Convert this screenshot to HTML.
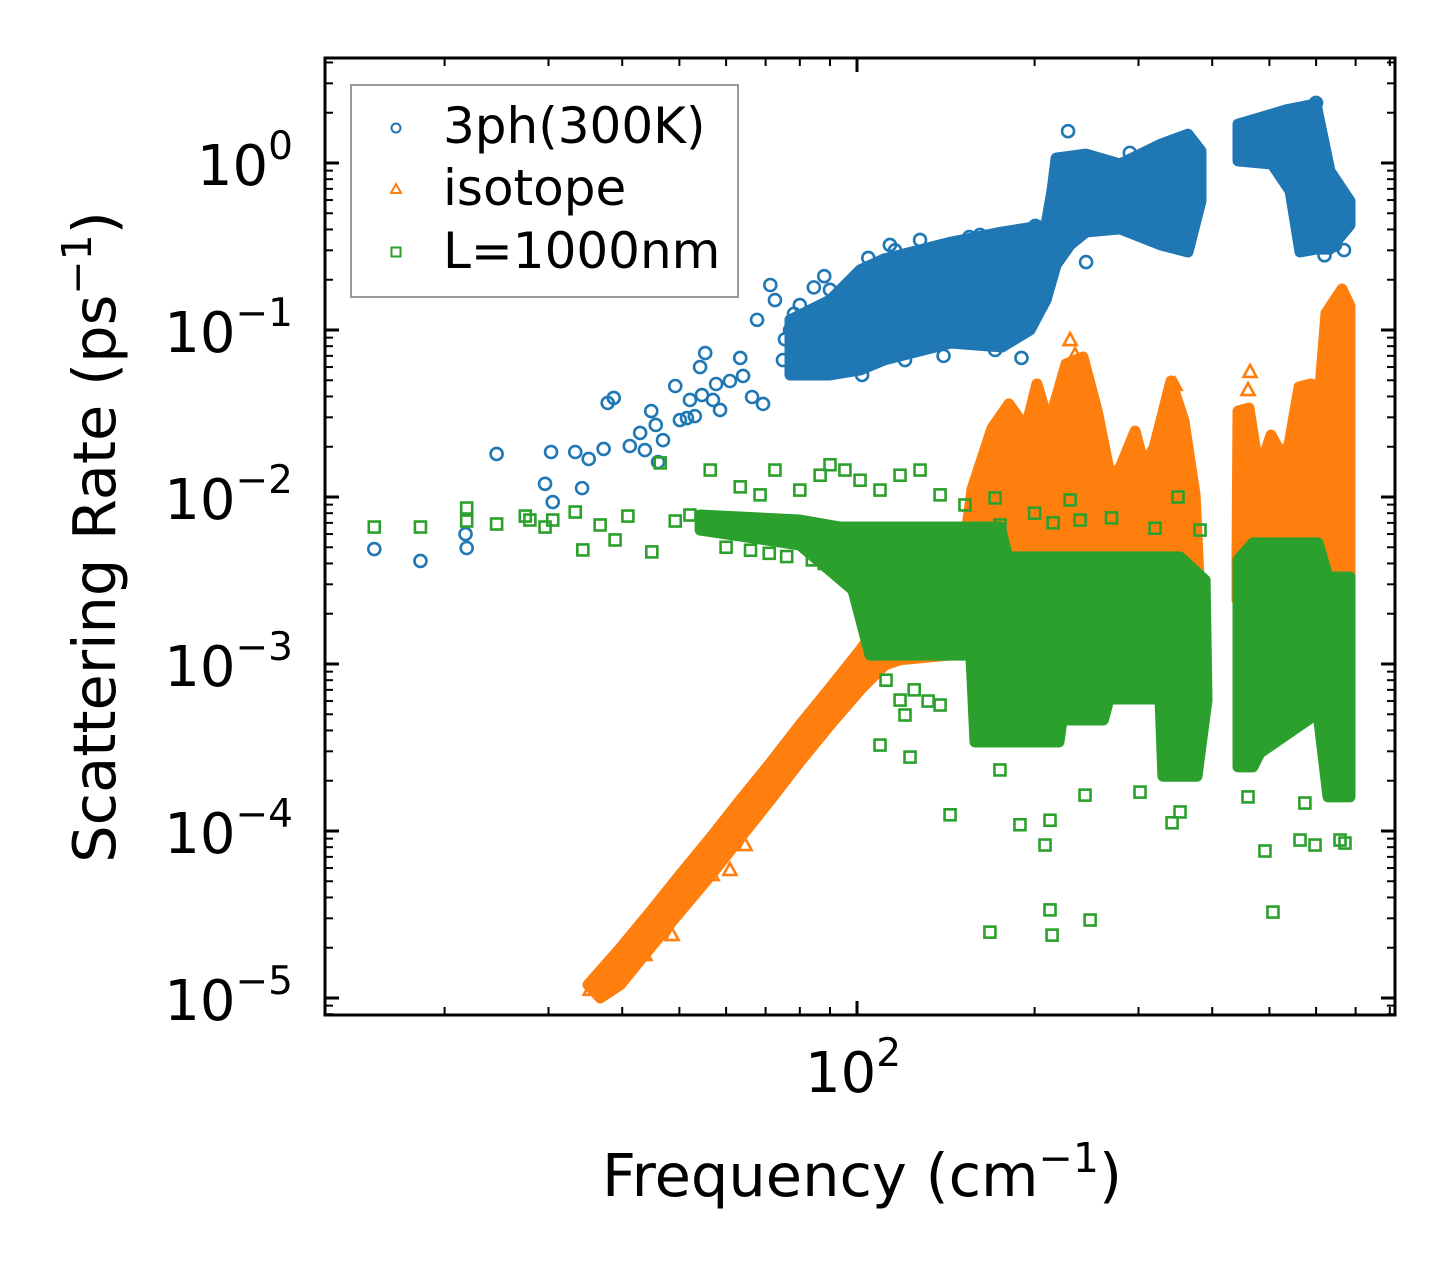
<!DOCTYPE html>
<html><head><meta charset="utf-8"><style>
html,body{margin:0;padding:0;background:#fff;}
svg{display:block;font-family:"DejaVu Sans","Liberation Sans",sans-serif;}
</style></head><body>
<svg id="chart" width="1455" height="1265" viewBox="0 0 1455 1265" xmlns="http://www.w3.org/2000/svg">
<rect width="1455" height="1265" fill="#fff"/>
<g id="plot"></g>
<g id="axes"></g>
<g>
<rect x="351" y="85" width="387" height="212" fill="#fff" fill-opacity="0.8" stroke="#999" stroke-width="2"/>
<circle cx="396" cy="128" r="4.5" fill="none" stroke="#1f77b4" stroke-width="2"/>
<text x="443" y="143" font-size="50">3ph(300K)</text>
<polygon points="396,184 401,193 391,193" fill="none" stroke="#ff7f0e" stroke-width="2"/>
<text x="443" y="205" font-size="50">isotope</text>
<rect x="391.5" y="247.5" width="9" height="9" fill="none" stroke="#2ca02c" stroke-width="2"/>
<text x="443" y="268" font-size="50">L=1000nm</text>
</g>
<text x="862" y="1196" font-size="59" text-anchor="middle">Frequency (cm<tspan dy="-24" font-size="41">−1</tspan><tspan dy="24">)</tspan></text>
<text transform="translate(115,537) rotate(-90)" font-size="59" text-anchor="middle">Scattering Rate (ps<tspan dy="-24" font-size="41">−1</tspan><tspan dy="24">)</tspan></text>
</svg>
<script>
// ---- data (frequency in cm^-1, rate in ps^-1) ----
const blueFreq=[15.2,18.2,21.7,21.8,24.5,29.6,30.3,30.5,33.3,34.2,35.1,37.2,37.8,38.7,41.2,42.9,43.7,44.8,45.6,46.0,46.9,49.2,50.1,51.5,52.1,53.1,54.2,54.6,55.3,57.0,57.7,58.6,60.9,63.4,64.1,66.4,67.7,69.3,71.3,72.6,74.9,77.0,80.0,81.7,86.6,90.0,95.4,100.4,102,109.4,113.7,120.6,127.9,135.6,149.5,161.6,171.4,227.9,244.5,234.2,563.5,599.8,645.7,669,75.5,78.2,83.1,84.5,88.0,92.1,104.5,116.0,140.2,155.0,190.0,200.5,290.0,350.0,470.0,520.0,620.0];
const blueRate=[0.00488,0.00414,0.0060,0.00495,0.0181,0.0120,0.0186,0.00933,0.0186,0.0113,0.0169,0.0194,0.0366,0.0392,0.0202,0.0242,0.0191,0.0327,0.0270,0.0162,0.0219,0.0462,0.0289,0.0297,0.0381,0.0305,0.0600,0.0408,0.0728,0.0381,0.0475,0.0332,0.0495,0.0680,0.0531,0.0397,0.115,0.0361,0.186,0.151,0.0661,0.100,0.141,0.0661,0.0759,0.174,0.162,0.199,0.0538,0.229,0.323,0.0661,0.346,0.100,0.323,0.371,0.0759,1.55,0.255,0.973,1.69,2.29,0.323,0.301,0.0880,0.125,0.0950,0.180,0.210,0.130,0.270,0.300,0.0700,0.360,0.0680,0.420,1.15,1.20,1.75,1.90,0.280];
const blueBand1Freq=[77.0,90.0,101.2,111.1,144.3,176.1,209.1,214.1,217.5,244.5,279.1,327.6,364,382.9,382.9,364,327.6,279.1,244.5,229.7,217.5,209.1,196.5,176.1,144.3,111.1,101.2,90.0,77.0];
const blueBand1Rate=[0.115,0.151,0.229,0.266,0.336,0.386,0.425,0.689,1.07,1.13,0.986,1.30,1.49,1.18,0.592,0.293,0.323,0.403,0.386,0.323,0.245,0.151,0.100,0.0791,0.0836,0.0661,0.0576,0.0538,0.0538];
const blueBand2Freq=[442.4,505,533.4,599.8,633.4,684.9,684.9,633.4,599.8,563.5,542,505,442.4];
const blueBand2Rate=[1.71,1.96,2.08,2.26,0.896,0.592,0.425,0.305,0.305,0.293,0.680,0.986,1.03];

const isoFreq=[35.3,36.0,41.2,43.7,45.5,48.6,54.2,56.8,60.9,64.6,68.5,74.0,80.0,86.6,93.6,378.4,463.6,460,567.7,671.5,445.7,460,346,229.7,234.2];
const isoRate=[1.12e-5,1.20e-5,2.08e-5,1.81e-5,2.74e-5,2.38e-5,5.09e-5,5.45e-5,5.84e-5,8.24e-5,1.53e-4,2.16e-4,3.27e-4,4.31e-4,5.68e-4,4.03e-4,0.0561,0.0437,0.0096,0.00516,0.0042,0.00242,0.0469,0.0871,0.0709];
const isoBand1Freq=[35.0,39.7,44.6,50.1,56.4,63.4,71.3,80.0,90.0,101.2,111.6,127.9,149.5,156.7,169.4,180.9,193.4,201.8,211.5,226.1,241.6,255.3,268.5,279.1,296,306.5,318.7,340.6,358.3,374.1,381.4,385.9,352.8,174.7,118.3,111.6,101.2,90.0,80.0,71.3,63.4,56.4,50.1,44.6,39.7,36.7];
const isoBand1Rate=[1.20e-5,1.99e-5,3.27e-5,5.45e-5,9.08e-5,1.53e-4,2.55e-4,4.31e-4,7.18e-4,1.21e-3,1.97e-3,2.42e-3,3.18e-3,0.0112,0.0259,0.0361,0.0259,0.0475,0.0274,0.0626,0.0689,0.0327,0.0135,0.0149,0.0248,0.0156,0.0197,0.0495,0.0285,0.0103,0.00242,0.00121,0.00121,0.00121,0.00106,9.87e-4,6.99e-4,4.31e-4,2.59e-4,1.53e-4,9.08e-5,5.38e-5,3.27e-5,1.99e-5,1.20e-5,1.0e-5];
const isoBand2Freq=[440.6,442.4,461.8,480.1,503.1,525.2,539.8,561.2,588.4,609.2,623.7,663.7,684.9,684.9,440.6];
const isoBand2Rate=[0.00420,0.0327,0.0341,0.0141,0.0235,0.0178,0.0205,0.0456,0.0475,0.0456,0.126,0.176,0.139,0.00242,0.00242];

const bndFreq=[15.2,18.2,21.8,21.8,24.5,27.4,27.9,29.6,30.5,33.3,34.3,36.7,38.9,40.9,44.9,46.4,49.2,52.1,56.4,57.4,63.4,68.5,72.6,80.0,86.6,90.0,95.4,101.2,109.4,118.3,127.9,138.3,152.4,171.4,174.7,229.7,238.8,350,381.4,185.2,188.9,143.8,123.0,109.4,208.3,212.4,168.0,212.4,214.1,248.4,491.4,507,563.5,597.5,658.7,671.5,342,352.8,243.5,301.8,574.3,460,118.3,120.6,138.3,174.7,149.5,60.0,66.0,71.0,76.0,84.0,88.0,112.0,125.0,132.0,200.0,215.0,270.0,320.0];
const bndRate=[0.00661,0.00661,0.00718,0.00859,0.00689,0.00769,0.00728,0.00661,0.00728,0.00813,0.00482,0.00680,0.00553,0.00769,0.00469,0.0160,0.00718,0.00780,0.0145,0.00708,0.0115,0.0103,0.0145,0.0110,0.0135,0.0156,0.0145,0.0126,0.0110,0.0135,0.0145,0.0103,0.00896,0.00987,0.00680,0.00960,0.00728,0.0100,0.00634,3.51e-4,1.09e-4,1.25e-4,2.77e-4,3.27e-4,8.24e-5,1.16e-4,2.48e-5,3.37e-5,2.38e-5,2.93e-5,7.59e-5,3.27e-5,8.83e-5,8.24e-5,8.83e-5,8.47e-5,1.12e-4,1.30e-4,1.64e-4,1.71e-4,1.47e-4,1.60e-4,6.08e-4,4.95e-4,5.68e-4,2.32e-4,1.21e-3,0.00500,0.00480,0.00460,0.00440,0.00420,0.00400,8.00e-4,7.00e-4,6.00e-4,0.00800,0.00700,0.00750,0.00650];
const bndBand1Freq=[54.2,80.0,93.6,174.7,180.2,352.8,389,392,377,330,326.3,267.4,261.6,222.6,220,158.5,156,105.2,98.4,80.0,54.2];
const bndBand1Rate=[0.00780,0.00728,0.00661,0.00661,0.00438,0.00438,0.00318,6.08e-4,2.13e-4,2.13e-4,6.17e-4,6.17e-4,4.62e-4,4.62e-4,3.41e-4,3.41e-4,1.13e-3,1.13e-3,2.77e-3,5.16e-3,6.34e-3];
const bndBand2Freq=[442.4,468.9,604.5,628.5,684.9,684.9,628.5,604.5,481.9,468.9,442.4];
const bndBand2Rate=[0.00420,0.00531,0.00531,0.00332,0.00332,1.60e-4,1.60e-4,5.09e-4,2.93e-4,2.42e-4,2.42e-4];

const yTickExp=[0,-1,-2,-3,-4,-5];
const xTickExp=[2];

// ---- axis functions ----
const X0=325,X1=1395,Y0=58,Y1=1015;
function xs(f){return 857+590*Math.log10(f/100);}
function ys(r){return 163-167*Math.log10(r);}

const NS='http://www.w3.org/2000/svg';
const plot=document.getElementById('plot');
const axes=document.getElementById('axes');
function mk(tag,attrs,parent){const e=document.createElementNS(NS,tag);for(const k in attrs)e.setAttribute(k,attrs[k]);parent.appendChild(e);return e;}

const C1='#1f77b4',C2='#ff7f0e',C3='#2ca02c';
function band(fr,rt,col,name){
  const pts=fr.map((f,i)=>xs(f).toFixed(1)+','+ys(rt[i]).toFixed(1)).join(' ');
  const p=mk('polygon',{points:pts,fill:col,stroke:col,'stroke-width':11,'stroke-linejoin':'round'},plot);
  
  
}
function circles(fr,rt){
  fr.forEach((f,i)=>{const c=mk('circle',{cx:xs(f),cy:ys(rt[i]),r:6,fill:'none',stroke:C1,'stroke-width':2.6},plot);
    
    });
}
function tris(fr,rt){
  fr.forEach((f,i)=>{const x=xs(f),y=ys(rt[i]);
    const t=mk('polygon',{points:`${x},${y-7} ${x+6.5},${y+5} ${x-6.5},${y+5}`,fill:'none',stroke:C2,'stroke-width':2.6},plot);
    
    });
}
function squares(fr,rt){
  fr.forEach((f,i)=>{const x=xs(f),y=ys(rt[i]);
    const s=mk('rect',{x:x-5.5,y:y-5.5,width:11,height:11,fill:'none',stroke:C3,'stroke-width':2.6},plot);
    
    });
}
band(blueBand1Freq,blueBand1Rate,C1,'3ph-dense-band-1');
band(blueBand2Freq,blueBand2Rate,C1,'3ph-dense-band-2');
circles(blueFreq,blueRate);
band(isoBand1Freq,isoBand1Rate,C2,'isotope-dense-band-1');
band(isoBand2Freq,isoBand2Rate,C2,'isotope-dense-band-2');
tris(isoFreq,isoRate);
band(bndBand1Freq,bndBand1Rate,C3,'boundary-dense-band-1');
band(bndBand2Freq,bndBand2Rate,C3,'boundary-dense-band-2');
squares(bndFreq,bndRate);

// ---- axes frame & ticks ----
const fr=mk('rect',{x:X0,y:Y0,width:X1-X0,height:Y1-Y0,fill:'none',stroke:'#000','stroke-width':3},axes);


function tick(x1,y1,x2,y2,w,name){const l=mk('line',{x1,y1,x2,y2,stroke:'#000','stroke-width':w},axes);
  
  }
yTickExp.forEach(e=>{
  const y=ys(Math.pow(10,e));
  tick(X0,y,X0+14,y,3,'y-major-tick');tick(X1,y,X1-14,y,3,'y-major-tick');
  const t=mk('text',{x:293,y:y+22,'font-size':56,'text-anchor':'end'},axes);
  
  
  t.innerHTML=`10<tspan dy="-26" font-size="39">${e<0?'−'+(-e):e}</tspan>`;
});
for(let e=-6;e<=0;e++){for(let m=2;m<=9;m++){const y=ys(m*Math.pow(10,e));if(y>Y0&&y<Y1){tick(X0,y,X0+8,y,2,'y-minor-tick');tick(X1,y,X1-8,y,2,'y-minor-tick');}}}
xTickExp.forEach(e=>{
  const x=xs(Math.pow(10,e));
  tick(x,Y0,x,Y0+14,3,'x-major-tick');tick(x,Y1,x,Y1-14,3,'x-major-tick');
  const t=mk('text',{x:x-4,y:1092,'font-size':56,'text-anchor':'middle'},axes);
  
  
  t.innerHTML=`10<tspan dy="-26" font-size="39">${e}</tspan>`;
});
for(let e=1;e<=2;e++){for(let m=2;m<=9;m++){const x=xs(m*Math.pow(10,e));if(x>X0&&x<X1){tick(x,Y0,x,Y0+8,2,'x-minor-tick');tick(x,Y1,x,Y1-8,2,'x-minor-tick');}}}
</script>
</body></html>
